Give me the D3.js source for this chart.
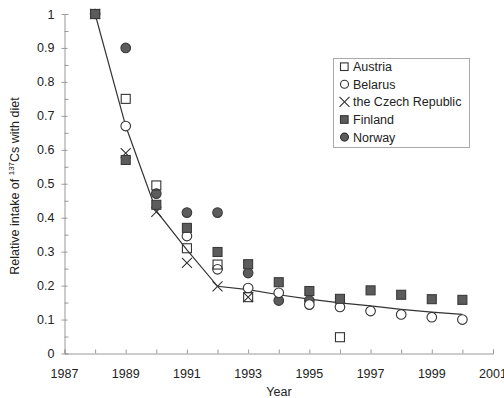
<!DOCTYPE html>
<html>
<head>
<meta charset="utf-8">
<script src="https://cdn.jsdelivr.net/npm/d3@7"></script>
<style>
  body { margin: 0; background: #fff; }
  text { font-family: "Liberation Sans", Arial, sans-serif; fill: #222; }
</style>
</head>
<body>
<div id="chart"></div>
<script>
// data
var years = [1988, 1989, 1990, 1991, 1992, 1993, 1994, 1995, 1996, 1997, 1998, 1999, 2000]

var austria = [1.0, 0.75, 0.495, 0.31, 0.262, 0.166, null, null, 0.048, null, null, null, null]
var belarus = [null, 0.67, null, 0.346, 0.248, 0.193, 0.179, 0.144, 0.137, 0.125, 0.115, 0.107, 0.10]
var czech   = [1.0, 0.59, 0.417, 0.267, 0.198, 0.166, null, null, null, null, null, null, null]
var finland = [1.0, 0.57, 0.438, 0.37, 0.299, 0.263, 0.21, 0.184, 0.161, 0.186, 0.173, 0.16, 0.158]
var norway  = [1.0, 0.90, 0.471, 0.415, 0.415, 0.237, 0.156, 0.156, null, null, null, null, null]
var fitLine = [1.0, 0.67, 0.42, 0.305, 0.198, 0.188, 0.173, 0.16, 0.149, 0.14, 0.13, 0.122, 0.115]

var xTickLabels = [1987, 1989, 1991, 1993, 1995, 1997, 1999, 2001]
var yTickLabels = [0, 0.1, 0.2, 0.3, 0.4, 0.5, 0.6, 0.7, 0.8, 0.9, 1]

// drawing order: later ones sit on top
var series = [
  { name: 'Norway', values: norway, shape: 'circle', filled: true },
  { name: 'Belarus', values: belarus, shape: 'circle', filled: false },
  { name: 'the Czech Republic', values: czech, shape: 'cross', filled: false },
  { name: 'Austria', values: austria, shape: 'square', filled: false },
  { name: 'Finland', values: finland, shape: 'square', filled: true }
]
var legendOrder = ['Austria', 'Belarus', 'the Czech Republic', 'Finland', 'Norway']

var W = 504, H = 398
var svg = d3.select('#chart').append('svg').attr('width', W).attr('height', H)

var x = d3.scaleLinear().domain([1987, 2001]).range([64.5, 493])
var y = d3.scaleLinear().domain([0, 1]).range([353.5, 14])

var axisColor = '#999'

// axes
var xAxis = svg.append('g').attr('transform', 'translate(0,' + y(0) + ')')
  .call(d3.axisBottom(x).tickValues(d3.range(1987, 2002)).tickSize(-4).tickFormat(''))
var yAxis = svg.append('g').attr('transform', 'translate(' + x(1987) + ',0)')
  .call(d3.axisLeft(y).tickValues(d3.range(0, 1.001, 0.05)).tickSize(-4).tickFormat(''))
;[xAxis, yAxis].forEach(function (g) {
  g.select('.domain').attr('stroke', axisColor)
  g.selectAll('.tick line').attr('stroke', axisColor)
})
// major ticks cross the y axis a bit
yAxis.selectAll('.tick line').filter(function (d) { return Math.round(d * 100) % 10 === 0 })
  .attr('x1', -3).attr('x2', 3)

svg.append('g').selectAll('text').data(xTickLabels).join('text')
  .attr('x', function (d) { return x(d) }).attr('y', 377.5)
  .attr('text-anchor', 'middle').attr('font-size', 12.5).text(function (d) { return d })

svg.append('g').selectAll('text').data(yTickLabels).join('text')
  .attr('x', 54.5).attr('y', function (d) { return y(d) + 4.5 })
  .attr('text-anchor', 'end').attr('font-size', 12.5).text(function (d) { return d })

svg.append('text').attr('x', 279).attr('y', 396).attr('text-anchor', 'middle')
  .attr('font-size', 12.5).text('Year')

var yt = svg.append('text').attr('transform', 'translate(19,186) rotate(-90)')
  .attr('text-anchor', 'middle').attr('font-size', 12.5)
yt.append('tspan').text('Relative intake of ')
yt.append('tspan').attr('font-size', 8).attr('dy', -5).text('137')
yt.append('tspan').attr('dy', 5).text('Cs with diet')

// fitted line
var line = d3.line()
  .defined(function (d) { return d[1] != null })
  .x(function (d) { return x(d[0]) }).y(function (d) { return y(d[1]) })
svg.append('path').datum(d3.zip(years, fitLine)).attr('d', line)
  .attr('fill', 'none').attr('stroke', '#333').attr('stroke-width', 1.2)

function drawMarker(g, s, cx, cy) {
  var fill = s.filled ? '#5c5c5c' : '#fff'
  var stroke = s.filled ? '#3a3a3a' : '#333'
  if (s.shape === 'square') {
    g.append('rect').attr('x', cx - 4.5).attr('y', cy - 4.5).attr('width', 9).attr('height', 9)
      .attr('fill', s.filled ? fill : 'none').attr('stroke', stroke).attr('stroke-width', 1.1)
  } else if (s.shape === 'circle') {
    g.append('circle').attr('cx', cx).attr('cy', cy).attr('r', 4.8)
      .attr('fill', fill).attr('stroke', stroke).attr('stroke-width', 1.1)
  } else {
    g.append('path').attr('d', 'M' + (cx - 5) + ',' + (cy - 5) + 'L' + (cx + 5) + ',' + (cy + 5) +
      'M' + (cx - 5) + ',' + (cy + 5) + 'L' + (cx + 5) + ',' + (cy - 5))
      .attr('stroke', '#333').attr('stroke-width', 1.1).attr('fill', 'none')
  }
}

series.forEach(function (s) {
  var g = svg.append('g')
  years.forEach(function (yr, i) {
    if (s.values[i] == null) return
    drawMarker(g, s, x(yr), y(s.values[i]))
  })
})

// legend
var lg = svg.append('g')
lg.append('rect').attr('x', 333.5).attr('y', 58.5).attr('width', 136).attr('height', 89)
  .attr('fill', '#fff').attr('stroke', '#aaa')
legendOrder.forEach(function (name, i) {
  var s = series.find(function (d) { return d.name === name })
  var cy = 66.7 + i * 17.6
  var g = lg.append('g')
  if (s.shape === 'cross') {
    g.append('path').attr('d', 'M339.5,' + (cy - 5) + 'L349.5,' + (cy + 5) + 'M339.5,' + (cy + 5) + 'L349.5,' + (cy - 5))
      .attr('stroke', '#333').attr('stroke-width', 1.1)
  } else if (s.shape === 'square') {
    g.append('rect').attr('x', 340.5).attr('y', cy - 3.8).attr('width', 7.6).attr('height', 7.6)
      .attr('fill', s.filled ? '#5c5c5c' : '#fff').attr('stroke', '#333').attr('stroke-width', 1.1)
  } else {
    g.append('circle').attr('cx', 344.5).attr('cy', cy).attr('r', 4)
      .attr('fill', s.filled ? '#5c5c5c' : '#fff').attr('stroke', '#333').attr('stroke-width', 1.1)
  }
  g.append('text').attr('x', 353).attr('y', cy + 4.5).attr('font-size', 12.5).text(name)
})
</script>
</body>
</html>
